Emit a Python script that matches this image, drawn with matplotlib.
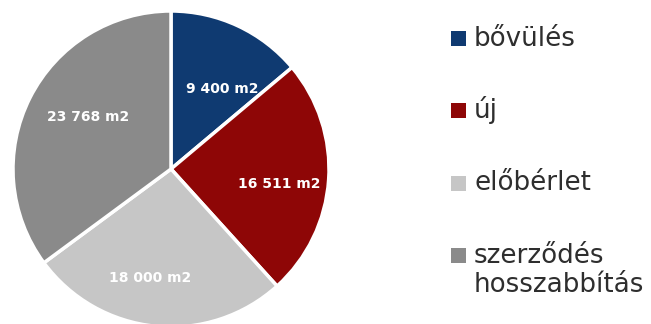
import numpy as np
import matplotlib
matplotlib.use("Agg")
import matplotlib.pyplot as plt
from matplotlib.patches import Rectangle

categories = ["bővülés", "új", "előbérlet", "szerződés\nhosszabbítás"]
values = [9400, 16511, 18000, 23768]
value_labels = ["9 400 m2", "16 511 m2", "18 000 m2", "23 768 m2"]
colors = ["#0F3A71", "#8E0606", "#C6C6C6", "#8A8A8A"]

W, H = 651, 324
fig = plt.figure(figsize=(W / 100, H / 100), dpi=100)
ax = fig.add_axes([0, 0, 1, 1])

cx, cy, r = 171, H - 169, 158
wedges, _ = ax.pie(values, colors=colors, startangle=90, counterclock=False,
                   center=(cx, cy), radius=r,
                   wedgeprops=dict(edgecolor="white", linewidth=2.5))

label_dist = [0.60, 0.69, 0.70, 0.62]
label_rot = [-8, -4, -5, -5]
for w, lab, d, rot in zip(wedges, value_labels, label_dist, label_rot):
    ang = np.deg2rad((w.theta1 + w.theta2) / 2 + rot)
    ax.text(cx + r * d * np.cos(ang), cy + r * d * np.sin(ang), lab,
            ha="center", va="center", color="white", fontsize=10,
            fontweight="bold", family="DejaVu Sans")

ax.set_xlim(0, W)
ax.set_ylim(0, H)
ax.set_aspect("equal")
ax.axis("off")

# legend
sq = 15
y0, step = 38, 72.5
for i, (lab, col) in enumerate(zip(categories, colors)):
    yc = H - (y0 + i * step)
    ax.add_patch(Rectangle((451, yc - sq / 2), sq, sq, facecolor=col,
                           edgecolor="none", clip_on=False))
    for j, line in enumerate(lab.split("\n")):
        ax.text(474, yc - 7.5 - j * 29, line, ha="left", va="baseline",
                fontsize=18.8, color="#2E2E2E", family="DejaVu Sans")

fig.savefig("out.png", dpi=100, facecolor="white")
